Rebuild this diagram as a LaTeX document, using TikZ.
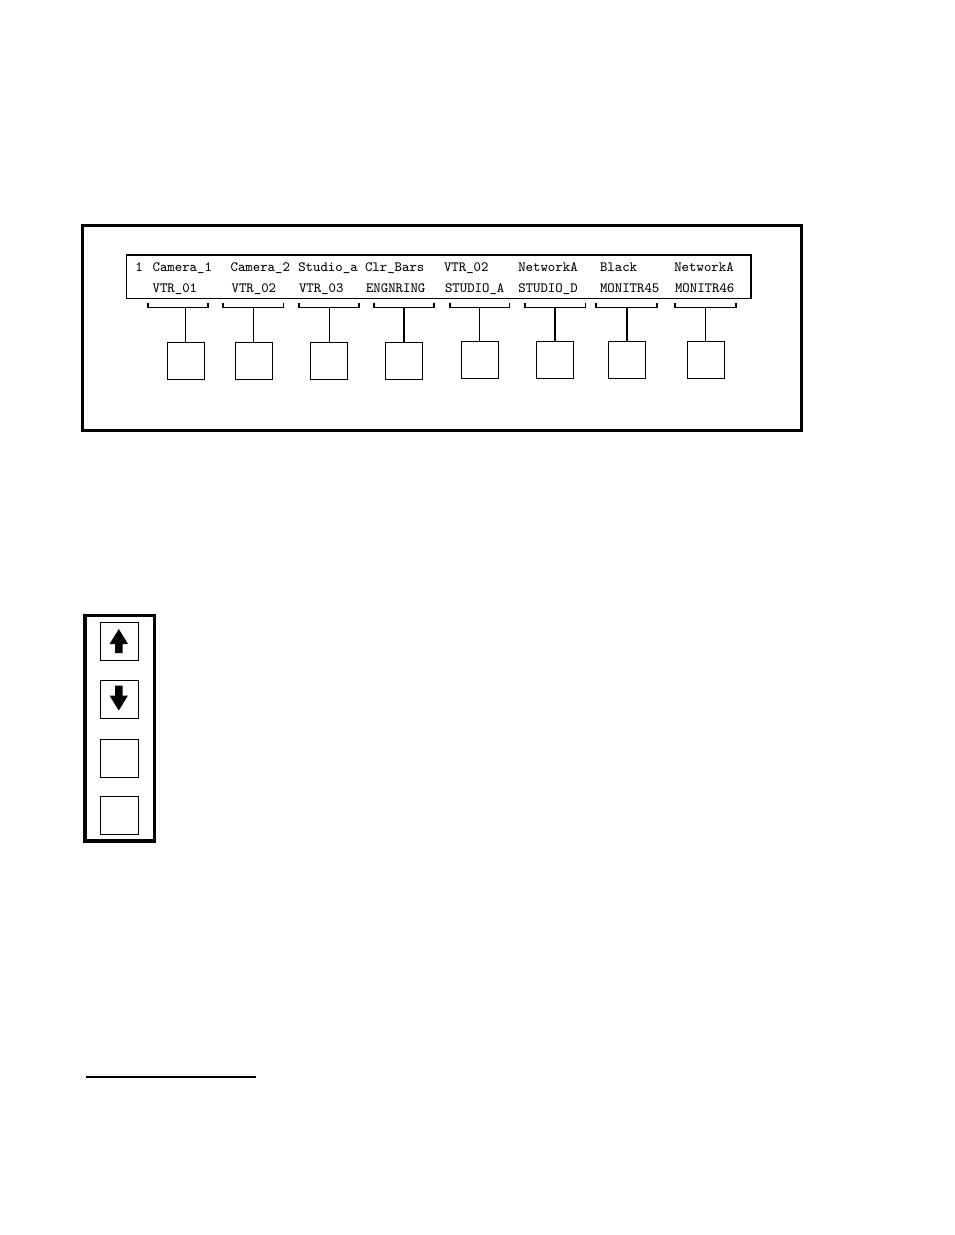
\documentclass[tikz,border=0pt]{standalone}
\begin{document}
\begin{tikzpicture}[x=0.6439pt,y=-0.6439pt,
  lbl/.style={font=\ttfamily\fontsize{9.1pt}{10pt}\selectfont, anchor=base west, inner sep=0pt},
  keybox/.style={draw, line width=0.65pt, minimum width=23.8pt, minimum height=23.8pt, inner sep=0pt},
  btn/.style={draw, line width=0.65pt, minimum width=24.2pt, minimum height=24.7pt, inner sep=0pt},
  thinline/.style={line width=0.65pt},
  thickstem/.style={line width=1.3pt},
  tick/.style={line width=1.2pt},
  frame/.style={draw, line width=2pt}]
\useasboundingbox (0,0) rectangle (954,1235);

% outer panel and display
\draw[frame] (82.5,225.5) rectangle (801.5,430.5);
\draw[line width=1pt] (126.3,254.8) rectangle (751,298.3);

% row 1 text
\node[lbl] (n1) at (135,271.5) {1};
\node[lbl] (t1a) at (152.3,271.5) {Camera\_1};
\node[lbl] (t2a) at (230.3,271.5) {Camera\_2};
\node[lbl] (t3a) at (298,271.5) {Studio\_a};
\node[lbl] (t4a) at (364.7,271.5) {Clr\_Bars};
\node[lbl] (t5a) at (443.7,271.5) {VTR\_02};
\node[lbl] (t6a) at (518,271.5) {NetworkA};
\node[lbl] (t7a) at (599.7,271.5) {Black};
\node[lbl] (t8a) at (674,271.5) {NetworkA};
% row 2 text
\node[lbl] (t1b) at (152.3,292.5) {VTR\_01};
\node[lbl] (t2b) at (231.3,292.5) {VTR\_02};
\node[lbl] (t3b) at (298.7,292.5) {VTR\_03};
\node[lbl] (t4b) at (365.7,292.5) {ENGNRING};
\node[lbl] (t5b) at (444.7,292.5) {STUDIO\_A};
\node[lbl] (t6b) at (518,292.5) {STUDIO\_D};
\node[lbl] (t7b) at (599.7,292.5) {MONITR45};
\node[lbl] (t8b) at (674.7,292.5) {MONITR46};

% brackets
\foreach \i/\l/\r in {1/147.8/208, 2/223/283.5, 3/298.6/359, 4/374.2/434, 5/449.6/509.5, 6/524.6/585.5, 7/596.3/657, 8/675.3/736}{
  \draw[thinline] (\l,307.3) -- (\r,307.3);
  \draw[tick] (\l,302.5) -- (\l,307.8);
  \draw[tick] (\r,302.5) -- (\r,307.8);
}

% key boxes
\node[keybox] (k1) at (185.8,360.8) {};
\node[keybox] (k2) at (253.8,360.8) {};
\node[keybox] (k3) at (329,360.8) {};
\node[keybox] (k4) at (404,360.8) {};
\node[keybox] (k5) at (479.7,359.7) {};
\node[keybox] (k6) at (554.7,359.7) {};
\node[keybox] (k7) at (626.7,359.7) {};
\node[keybox] (k8) at (705.8,359.7) {};

% stems
\coordinate (b1) at (185.8,307.3);
\coordinate (b2) at (253.8,307.3);
\coordinate (b3) at (329,307.3);
\coordinate (b4) at (404,307.3);
\coordinate (b5) at (479.7,307.3);
\coordinate (b6) at (554.7,307.3);
\coordinate (b7) at (626.7,307.3);
\coordinate (b8) at (705.8,307.3);
\draw[thinline] (b1) -- (k1.north);
\draw[thinline] (b2) -- (k2.north);
\draw[thinline] (b3) -- (k3.north);
\draw[thickstem] (b4) -- (k4.north);
\draw[thinline] (b5) -- (k5.north);
\draw[thickstem] (b6) -- (k6.north);
\draw[thickstem] (b7) -- (k7.north);
\draw[thinline] (b8) -- (k8.north);

% side panel
\draw[frame] (85,615.5) rectangle (154.5,841);
\node[btn] (up) at (119.5,641.5) {};
\node[btn] (down) at (119.5,699.8) {};
\node[btn] (s3) at (119.5,758.2) {};
\node[btn] (s4) at (119.5,815.5) {};
\fill (118.8,629) -- (128,644) -- (122.5,644) -- (122.5,653) -- (115,653) -- (115,644) -- (109.5,644) -- cycle;
\fill (118.8,710.5) -- (128,695.5) -- (122.5,695.5) -- (122.5,685.5) -- (115,685.5) -- (115,695.5) -- (109.5,695.5) -- cycle;

% footnote rule
\draw[line width=1pt] (86,1077) -- (255.7,1077);
\end{tikzpicture}
\end{document}
